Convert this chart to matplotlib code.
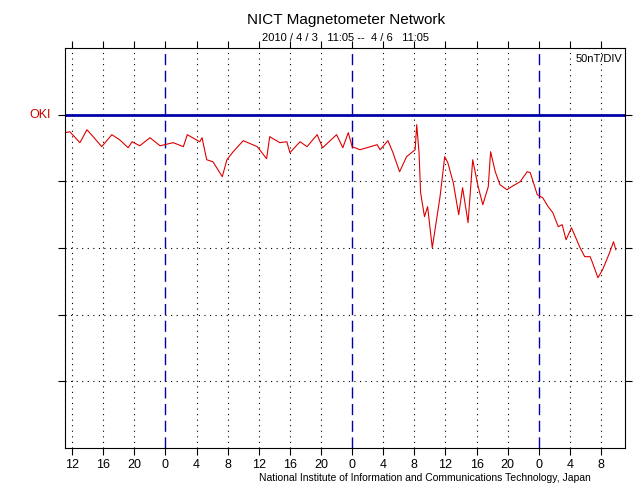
import numpy as np
import matplotlib
matplotlib.use("Agg")
import matplotlib.pyplot as plt

plt.rcParams["font.family"] = ["Liberation Sans", "DejaVu Sans"]

# heures depuis 2010/4/3 00:00, et écart en nT par rapport à la ligne OKI
hours = [11.1, 11.7, 13.0, 13.9, 14.7, 15.8, 17.1, 18.1, 19.2, 19.7, 20.7, 22.0, 23.3,
         25.0, 26.3, 26.8, 28.4, 28.7, 29.3, 30.1, 31.3, 31.9, 32.7, 34.0, 35.8, 37.0,
         37.4, 38.7, 39.6, 40.0, 41.3, 42.2, 43.5, 44.2, 46.0, 46.8, 47.5, 48.0, 49.0,
         49.9, 51.2, 51.6, 52.6, 53.2, 54.1, 55.0, 56.1, 56.3, 56.6, 56.8, 57.3, 57.7,
         58.3, 59.3, 59.9, 60.3, 61.0, 61.7, 62.2, 62.9, 63.5, 64.2, 64.8, 65.5, 65.8,
         66.4, 67.0, 67.9, 68.7, 69.6, 70.5, 70.9, 71.8, 72.5, 73.2, 73.8, 74.5, 75.0,
         75.5, 76.2, 77.3, 77.9, 78.6, 78.9, 79.6, 80.2, 81.1, 81.6, 81.9]
values = [-13.5, -12.8, -21, -11.3, -16.5, -24, -15, -18.8, -24.8, -20.3, -23.3, -17.3, -23.3,
          -21, -24, -15, -20.3, -17.3, -33.8, -35.3, -46.5, -33.8, -27.8, -19.5, -24, -33,
          -16.5, -21, -20.3, -28.5, -20.3, -24, -15, -24.8, -15, -24.8, -13.5, -24, -26.3,
          -24.8, -22.5, -26.3, -19.5, -27.8, -42.8, -31.5, -26.3, -7.5, -28.5, -58.5, -76.5, -69,
          -99.8, -61.5, -31.5, -36, -51, -75, -54.8, -81, -33.8, -54, -67.5, -54, -27.8,
          -42.8, -52.5, -56.3, -53.3, -50.3, -42.8, -43.5, -60, -62.3, -69, -73.5, -84, -82.5,
          -93.8, -84.8, -99.8, -106.5, -106.5, -111, -122.3, -116.3, -103.5, -95.3, -101.3]

start, end = 11.08, 83.08
tick_hours = list(range(12, 84, 4))
tick_labels = [str(h % 24) for h in tick_hours]
day_lines = [24, 48, 72]
levels = [-200, -150, -100, -50, 0]

fig = plt.figure(figsize=(6.4, 5), dpi=100)
ax = fig.add_axes([65 / 640, 52 / 500, 560 / 640, 400 / 500])
ax.set_xlim(start, end)
ax.set_ylim(-250, 50)

for h in tick_hours:
    if h not in day_lines:
        ax.axvline(h, color="black", ls=(0, (1, 4)), lw=0.8)
for h in day_lines:
    ax.axvline(h, color="#0000aa", ls=(0, (8, 4)), lw=1)
for lv in levels[:-1]:
    ax.axhline(lv, color="black", ls=(0, (1, 4)), lw=0.8)
ax.axhline(0, color="#0000aa", lw=2)

ax.plot(hours, values, color="#dd0000", lw=0.8)

ax.set_xticks(tick_hours)
ax.set_xticklabels(tick_labels, fontsize=9)
ax.set_yticks(levels)
ax.set_yticklabels([])
ax.tick_params(axis="x", direction="out", length=5, top=True, pad=3)
ax.tick_params(axis="y", direction="out", length=5, right=True)

ax.text(0.995, 0.985, "50nT/DIV", transform=ax.transAxes, ha="right", va="top", fontsize=8)
fig.text(40 / 640, 1 - 115 / 500, "OKI", color="#cc0000", ha="center", va="center", fontsize=9)
fig.text(0.54, 1 - 20 / 500, "NICT Magnetometer Network", ha="center", va="center", fontsize=11)
fig.text(0.54, 1 - 38 / 500, "2010 / 4 / 3   11:05 --  4 / 6   11:05", ha="center", va="center", fontsize=8)
fig.text(425 / 640, 1 - 478 / 500, "National Institute of Information and Communications Technology, Japan",
         ha="center", va="center", fontsize=7.5)

fig.savefig("out.png", dpi=100)
